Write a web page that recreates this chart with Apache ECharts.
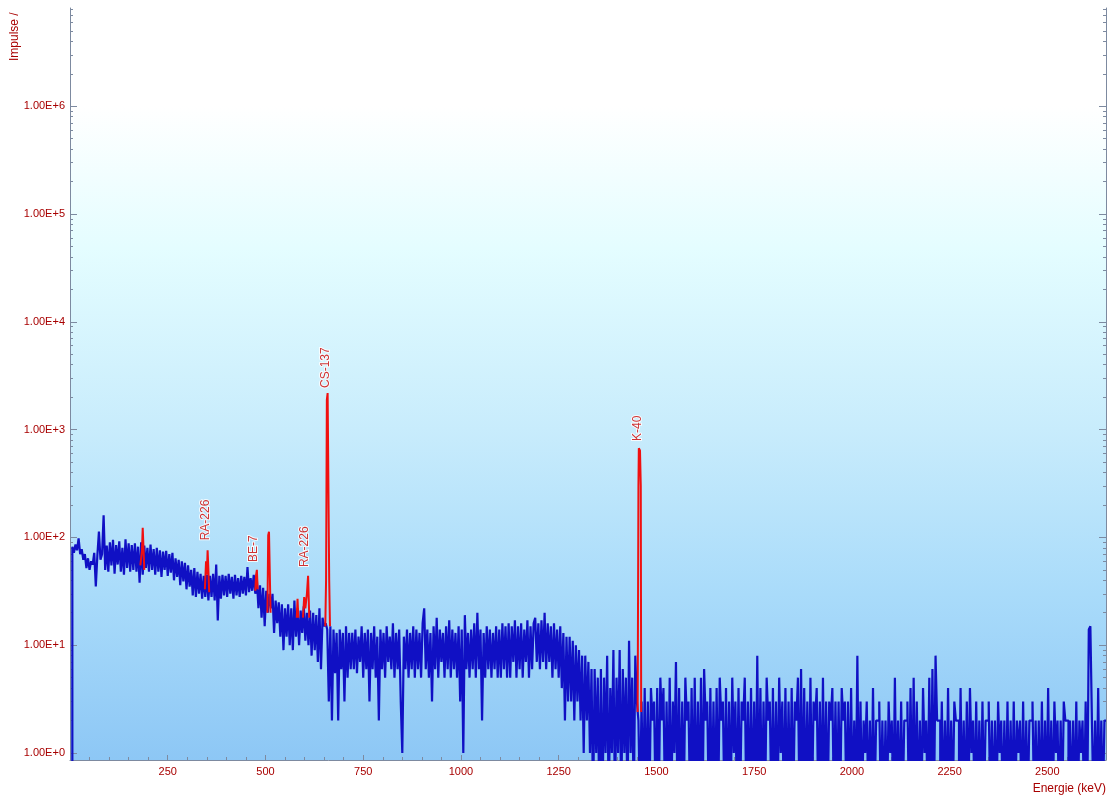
<!DOCTYPE html>
<html><head><meta charset="utf-8">
<script src="https://cdn.jsdelivr.net/npm/echarts@6/dist/echarts.min.js"></script>
<style>html,body{margin:0;padding:0;background:#fff}#c{width:1112px;height:798px}</style>
</head><body><div id="c"></div>
<script>
// Spectrum: counts per 4 keV channel, starting at 6 keV
const channelStart = 6;
const channelWidth = 4;
const counts = [
  0, 82, 72, 86, 76, 98, 70, 78, 62, 70, 52, 64, 50, 60, 56, 72, 35, 68, 113, 62,
  70, 160, 50, 84, 48, 90, 55, 95, 46, 85, 56, 92, 48, 80, 45, 96, 52, 88, 48, 85,
  50, 88, 48, 82, 38, 90, 45, 84, 52, 80, 48, 86, 50, 78, 45, 80, 48, 76, 43, 74,
  50, 75, 44, 70, 47, 72, 40, 64, 43, 62, 36, 60, 39, 58, 33, 55, 35, 50, 29, 52,
  28, 48, 30, 46, 27, 44, 28, 45, 26, 44, 28, 46, 26, 56, 17, 44, 27, 45, 29, 44,
  28, 46, 30, 43, 27, 45, 29, 42, 28, 44, 30, 43, 29, 53, 31, 42, 32, 45, 30, 40,
  22, 36, 18, 34, 15, 32, 20, 30, 22, 30, 13, 26, 16, 25, 12, 24, 9, 22, 12, 24,
  10, 22, 9, 26, 12, 22, 10, 21, 13, 23, 11, 20, 10, 21, 8, 20, 9, 19, 7, 22,
  6, 18, 15, 16, 14, 3, 15, 2, 14, 5.5, 13, 2, 14, 6, 13, 3, 15, 5, 13, 6,
  13, 6, 14, 5.5, 12, 7, 15, 5, 13, 6, 14, 3, 13, 6, 15, 5, 12, 2, 14, 6,
  13, 5, 15, 7, 12, 6, 16, 5, 13, 6, 14, 3, 1, 12, 6, 14, 5, 13, 6, 15,
  5, 14, 6, 13, 5, 16, 22, 6, 14, 5, 13, 3, 15, 6, 18, 5, 14, 7, 13, 5,
  15, 6, 17, 5, 14, 6, 13, 5, 15, 3, 14, 1, 19, 6, 13, 5, 14, 6, 16, 5,
  20, 6, 14, 2, 13, 5, 15, 6, 14, 5, 13, 6, 15, 5, 14, 5, 16, 6, 15, 5,
  16, 5, 15, 7, 17, 5, 15, 6, 16, 5, 14, 7, 17, 5, 15, 6, 16, 18, 7, 16,
  6, 17, 7, 20, 6, 16, 7, 15, 5, 16, 6, 14, 5, 15, 4, 13, 2, 12, 3, 12,
  3, 11, 2, 10, 3, 9, 2, 8, 1, 8, 2, 7, 1, 6, 0, 6, 1, 5, 0, 6,
  0, 5, 1, 8, 0, 4, 1, 9, 0, 5, 1, 9, 0, 6, 1, 5, 0, 11, 1, 5,
  0, 8, 3, 2, 0, 3, 0, 4, 0, 3, 0, 4, 2, 3, 0, 4, 0, 5, 2, 4,
  0, 3, 0, 5, 0, 3, 1, 7, 0, 4, 0, 3, 0, 5, 2, 3, 0, 4, 0, 5,
  0, 3, 0, 5, 0, 6, 2, 3, 0, 4, 0, 3, 0, 4, 0, 5, 2, 3, 0, 4,
  0, 3, 0, 5, 1, 3, 0, 4, 0, 3, 2, 5, 0, 3, 0, 4, 0, 3, 0, 8,
  0, 4, 0, 3, 0, 5, 2, 3, 0, 4, 0, 3, 0, 5, 1, 3, 0, 4, 0, 3,
  0, 4, 0, 3, 2, 5, 0, 6, 0, 4, 0, 3, 0, 5, 0, 3, 2, 4, 0, 3,
  0, 5, 0, 3, 0, 3, 2, 4, 0, 3, 0, 3, 0, 4, 2, 3, 0, 3, 0, 4,
  0, 2, 0, 8, 0, 3, 0, 2, 1, 3, 0, 2, 0, 4, 0, 2, 2, 3, 0, 2,
  0, 2, 0, 3, 1, 2, 0, 5, 0, 2, 0, 3, 0, 2, 2, 3, 0, 4, 0, 5,
  0, 3, 0, 2, 0, 4, 1, 2, 0, 5, 0, 6, 0, 8, 2, 2, 0, 3, 0, 2,
  0, 4, 0, 2, 0, 3, 2, 2, 0, 4, 0, 2, 0, 3, 0, 4, 1, 2, 0, 3,
  0, 2, 0, 3, 0, 2, 2, 3, 0, 2, 0, 2, 0, 3, 1, 2, 0, 2, 0, 3,
  0, 2, 0, 3, 0, 2, 1, 2, 0, 3, 0, 2, 0, 2, 2, 3, 0, 2, 0, 2,
  0, 3, 0, 2, 0, 4, 0, 2, 0, 3, 1, 2, 0, 2, 0, 3, 2, 2, 0, 2,
  0, 2, 0, 3, 0, 2, 1, 2, 0, 3, 0, 14, 15, 2, 0, 2, 0, 4, 0, 2,
  0, 2
];

// Identified peaks: [energy keV, counts]
const peakRa186 = [[180, 55], [184, 75], [186, 123], [188, 80], [190, 50]];
const peakRa352 = [[345, 33], [348, 60], [350, 45], [352, 76], [354, 50], [356, 31]];
const peakBe477 = [[474, 32], [476, 45], [478, 50], [480, 33]];
const peak511 = [[505, 20], [507, 105], [509, 113], [511, 110], [513, 20]];
const peak583 = [[580, 18], [582, 27], [584, 18]];
const peakRa609 = [[596, 18], [599, 28], [602, 22], [606, 30], [609, 44], [612, 18]];
const peakCs662 = [[653, 15], [655, 40], [657, 1900], [659, 2180], [661, 2100], [663, 40], [665, 15]];
const peakK40 = [[1452, 2.4], [1454, 300], [1455, 670], [1458, 640], [1460, 300], [1461, 2.4]];

const peakLabelNames = ['RA-226', 'BE-7', 'RA-226', 'CS-137', 'K-40'];
const peakLabelEnergies = [348, 471, 601, 655, 1453];
const peakLabelCounts = [94, 59, 53, 2430, 784];

const xLabelValues = [250, 500, 750, 1000, 1250, 1500, 1750, 2000, 2250, 2500];
const yLabelValues = [1, 10, 100, 1000, 10000, 100000, 1000000];

const xMin = 0, xMax = 2650;
const yMin = 0.861, yMax = 8.15e6;
const zeroFloor = 0.3; // zero counts cannot sit on a log axis; drawn below the axis floor

const xMinorTicks = [];
for (let v = 50; v < xMax; v += 50) xMinorTicks.push(v);
const yMinorTicks = [];
for (let e = 0; e <= 6; e++) for (let m = 2; m <= 9; m++) { const v = m * Math.pow(10, e); if (v < yMax) yMinorTicks.push(v); }

const blueData = counts.map((c, i) => [channelStart + channelWidth * i, c > 0 ? c : zeroFloor]);
const peaks = [peakRa186, peakRa352, peakBe477, peak511, peak583, peakRa609, peakCs662, peakK40];

const axisColor = '#7d8aa0';
const labelColor = '#a80000';
const font = 'Liberation Sans, Arial, sans-serif';

const chart = echarts.init(document.getElementById('c'), null, {renderer: 'canvas'});

const yBase = {type: 'log', logBase: 10, min: yMin, max: yMax, splitLine: {show: false}, minorTick: {show: false}};
const option = {
  animation: false,
  backgroundColor: '#ffffff',
  grid: {
    left: 70, right: 6, top: 8, bottom: 38, show: true, borderWidth: 0,
    backgroundColor: new echarts.graphic.LinearGradient(0, 0, 0, 1, [
      {offset: 0, color: '#ffffff'},
      {offset: 0.13, color: '#ffffff'},
      {offset: 0.32, color: '#e4fdff'},
      {offset: 0.56, color: '#c8ecfc'},
      {offset: 0.78, color: '#a9dbfa'},
      {offset: 1, color: '#8dc7f5'}
    ])
  },
  xAxis: [
    {
      type: 'value', min: xMin, max: xMax, position: 'bottom',
      axisLine: {show: true, onZero: false, lineStyle: {color: axisColor, width: 1}},
      axisTick: {show: true, inside: true, length: 5, customValues: xLabelValues, lineStyle: {color: axisColor}},
      axisLabel: {customValues: xLabelValues, color: labelColor, fontSize: 11, fontFamily: font, margin: 6,
        formatter: v => String(v)},
      splitLine: {show: false}
    },
    {
      type: 'value', min: xMin, max: xMax, position: 'bottom',
      axisLine: {show: false, onZero: false},
      axisTick: {show: true, inside: true, length: 3, customValues: xMinorTicks, lineStyle: {color: axisColor}},
      axisLabel: {show: false},
      splitLine: {show: false}
    }
  ],
  yAxis: [
    Object.assign({}, yBase, {
      position: 'left',
      axisLine: {show: true, lineStyle: {color: axisColor}},
      axisTick: {show: true, inside: true, length: 7, customValues: yLabelValues, lineStyle: {color: axisColor}},
      axisLabel: {customValues: yLabelValues, color: labelColor, fontSize: 11, fontFamily: font, margin: 5,
        formatter: v => '1.00E+' + Math.round(Math.log10(v))}
    }),
    Object.assign({}, yBase, {
      position: 'left',
      axisLine: {show: false},
      axisTick: {show: true, inside: true, length: 3, customValues: yMinorTicks, lineStyle: {color: axisColor}},
      axisLabel: {show: false}
    }),
    Object.assign({}, yBase, {
      position: 'right',
      axisLine: {show: true, lineStyle: {color: axisColor}},
      axisTick: {show: true, inside: true, length: 7, customValues: yLabelValues, lineStyle: {color: axisColor}},
      axisLabel: {show: false}
    }),
    Object.assign({}, yBase, {
      position: 'right',
      axisLine: {show: false},
      axisTick: {show: true, inside: true, length: 3, customValues: yMinorTicks, lineStyle: {color: axisColor}},
      axisLabel: {show: false}
    })
  ],
  series: [
    {
      type: 'line', step: 'start', data: blueData, showSymbol: false, symbol: 'none',
      lineStyle: {color: '#1010c4', width: 2.2}, clip: true, silent: true
    }
  ].concat(peaks.map(p => ({
    type: 'line', data: p, showSymbol: false, symbol: 'none',
    lineStyle: {color: '#f01010', width: 2}, clip: true, silent: true, z: 3
  }))).concat([{
    type: 'scatter', symbolSize: 0, z: 5, silent: true,
    data: peakLabelNames.map((n, i) => ({name: n, value: [peakLabelEnergies[i], peakLabelCounts[i]]})),
    label: {
      show: true, position: 'inside', rotate: 90, align: 'left', verticalAlign: 'middle',
      formatter: p => p.name, color: '#c40000', fontSize: 12, fontFamily: font,
      textBorderColor: '#ffffff', textBorderWidth: 2
    }
  }]),
  graphic: [
    {type: 'text', x: 21, y: 61, rotation: Math.PI / 2,
      style: {text: 'Impulse /', fill: labelColor, font: '12px ' + font, textAlign: 'left', textVerticalAlign: 'bottom'}},
    {type: 'text', x: 1106, y: 789,
      style: {text: 'Energie (keV)', fill: labelColor, font: '12px ' + font, textAlign: 'right', textVerticalAlign: 'middle'}}
  ]
};
chart.setOption(option);
</script>
</body></html>
